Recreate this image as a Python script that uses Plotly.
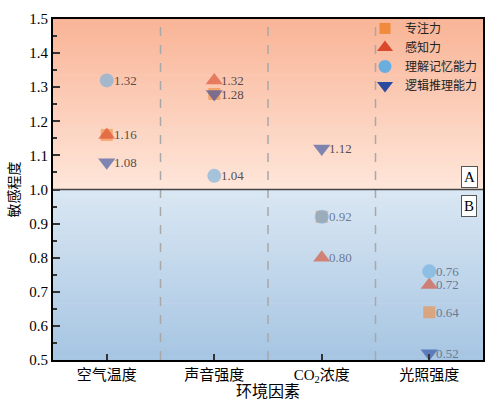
import plotly.graph_objects as go

# Categories (environmental factors) and sensitivity values for each ability
categories = ["空气温度", "声音强度", "CO<sub>2</sub>浓度", "光照强度"]
focus = [1.16, 1.28, 0.92, 0.64]          # 专注力
perception = [1.16, 1.32, 0.80, 0.72]     # 感知力
memory = [1.32, 1.04, 0.92, 0.76]         # 理解记忆能力
logic = [1.08, 1.28, 1.12, 0.52]          # 逻辑推理能力
series_names = ["专注力", "感知力", "理解记忆能力", "逻辑推理能力"]
y_ticks = [0.5, 0.6, 0.7, 0.8, 0.9, 1.0, 1.1, 1.2, 1.3, 1.4, 1.5]

series = [focus, perception, memory, logic]
symbols = ["square", "triangle-up", "circle", "triangle-down"]
colors = ["#f08a3c", "#d9482a", "#6aaee0", "#2c4a9e"]
sizes = [12, 15, 14, 15]

SERIF = "Liberation Serif, Times New Roman, Noto Sans CJK SC, serif"

fig = go.Figure()

# Vertical gradient backgrounds: warm above 1.0, cool below 1.0
def lerp(c1, c2, t):
    return "rgb(%d,%d,%d)" % tuple(round(a + (b - a) * t) for a, b in zip(c1, c2))

shapes = []
n = 60
top_hi, top_lo = (249, 180, 150), (254, 230, 218)
bot_hi, bot_lo = (218, 231, 243), (166, 197, 226)
for i in range(n):
    y0 = 1.0 + 0.5 * i / n
    y1 = 1.0 + 0.5 * (i + 1) / n + 0.002
    shapes.append(dict(type="rect", xref="paper", yref="y", x0=0, x1=1, y0=y0, y1=min(y1, 1.5),
                       fillcolor=lerp(top_lo, top_hi, (i + 0.5) / n), line_width=0, layer="below"))
    y0 = 1.0 - 0.5 * (i + 1) / n - 0.002
    y1 = 1.0 - 0.5 * i / n
    shapes.append(dict(type="rect", xref="paper", yref="y", x0=0, x1=1, y0=max(y0, 0.5), y1=y1,
                       fillcolor=lerp(bot_hi, bot_lo, (i + 0.5) / n), line_width=0, layer="below"))

# Dashed separators between categories
for xb in [0.5, 1.5, 2.5]:
    shapes.append(dict(type="line", xref="x", yref="paper", x0=xb, x1=xb, y0=0, y1=1,
                       line=dict(color="#a8a8a8", width=1.5, dash="dash"), layer="below"))

# Divider at sensitivity 1.0
shapes.append(dict(type="line", xref="paper", yref="y", x0=0, x1=1, y0=1.0, y1=1.0,
                   line=dict(color="#444444", width=1.5), layer="above"))

annotations = []
for k, (vals, name) in enumerate(zip(series, series_names)):
    fig.add_trace(go.Scatter(
        x=categories, y=vals, mode="markers", name=name, showlegend=False,
        marker=dict(symbol=symbols[k], size=sizes[k], color=colors[k], opacity=0.6,
                    line=dict(width=0)),
        cliponaxis=False,
    ))
    # value labels beside each point (one label where points coincide)
    for j, v in enumerate(vals):
        if any(series[m][j] == v for m in range(k + 1, len(series))):
            continue
        annotations.append(dict(
            x=categories[j], y=v, xref="x", yref="y", text=f"{v:.2f}", showarrow=False,
            xanchor="left", yanchor="middle", xshift=5,
            font=dict(family=SERIF, size=13,
                      color="rgba(70,55,55,0.9)" if v >= 1.0 else "rgba(95,110,135,0.9)"),
        ))

# Legend entries at full colour
for k, name in enumerate(series_names):
    fig.add_trace(go.Scatter(
        x=[None], y=[None], mode="markers", name=name,
        marker=dict(symbol=symbols[k], size=sizes[k] - 1, color=colors[k]),
    ))

for label, shift in [("A", 13), ("B", -16)]:
    annotations.append(dict(
        text=label, xref="paper", yref="y", x=0.968, y=1.0, yshift=shift, showarrow=False,
        xanchor="center", yanchor="middle",
        font=dict(family=SERIF, size=15, color="black"), bgcolor="white",
        bordercolor="#555", borderwidth=1, borderpad=2))

fig.update_layout(
    width=485, height=400,
    margin=dict(l=53, r=0, t=19, b=38),
    paper_bgcolor="white", plot_bgcolor="white",
    shapes=shapes, annotations=annotations,
    font=dict(family=SERIF, size=14, color="black"),
    legend=dict(x=1.0, y=1.015, xanchor="right", yanchor="top", bgcolor="rgba(0,0,0,0)",
                font=dict(family=SERIF, size=12, color="#222"), itemwidth=30,
                tracegroupgap=0),
    xaxis=dict(type="category", categoryorder="array", categoryarray=categories,
               range=[-0.5, 3.5], showgrid=False, zeroline=False,
               showline=True, linecolor="black", linewidth=2, mirror=True,
               ticks="inside", ticklen=6, tickwidth=1.5, tickcolor="#333",
               tickfont=dict(family=SERIF, size=15),
               title=dict(text="环境因素", font=dict(family=SERIF, size=16), standoff=4)),
    yaxis=dict(range=[0.5, 1.5], tickvals=y_ticks, ticktext=[f"{t:.1f}" for t in y_ticks],
               showgrid=False, zeroline=False,
               showline=True, linecolor="black", linewidth=2, mirror=True,
               ticks="inside", ticklen=7, tickwidth=1.5, tickcolor="#333",
               minor=dict(dtick=0.05, ticks="inside", ticklen=4, tickcolor="#333", showgrid=False),
               tickfont=dict(family=SERIF, size=15),
               title=dict(text="敏感程度", font=dict(family=SERIF, size=14), standoff=6)),
)

fig.write_html("out.html")
